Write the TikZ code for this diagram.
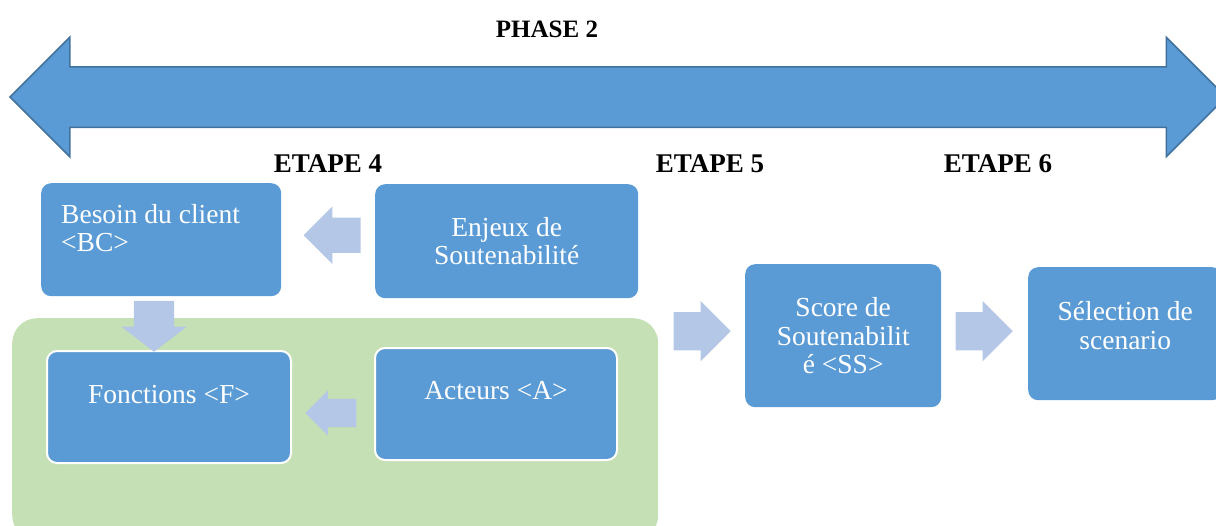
\documentclass[tikz,border=0pt]{standalone}
\usepackage{fontspec}
\setmainfont{Liberation Serif}
\usetikzlibrary{shapes.arrows,calc}
\definecolor{boxblue}{HTML}{5B9BD5}
\definecolor{edgeblue}{HTML}{41719C}
\definecolor{paleblue}{HTML}{B4C7E7}
\definecolor{palegreen}{HTML}{C5E0B4}
\begin{document}
\begin{tikzpicture}[x=1pt, y=-1pt,
    bluebox/.style = {fill=boxblue, rounded corners=10pt, inner sep=0pt, text=white, align=center, font=\fontsize{27.5}{28.5}\selectfont},
    boxtext/.style = {text=white, inner sep=0pt, font=\fontsize{27.5}{28.5}\selectfont},
    etape/.style = {font=\bfseries\fontsize{27}{30}\selectfont, inner sep=0pt},
    lightarrow/.style = {single arrow, fill=paleblue, anchor=tip, inner xsep=0pt, inner ysep=19pt, minimum height=57pt, single arrow head extend=11pt}]
    \useasboundingbox (0,0) rectangle (1216,525);
    % big phase arrow
    \node[double arrow, draw=edgeblue, line width=1.5pt, fill=boxblue, inner xsep=0pt, inner ysep=29.5pt, minimum height=1216pt, double arrow head extend=29.5pt] (fleche) at (618,97) {};
    \node[etape, font=\bfseries\fontsize{25}{28}\selectfont] (phase) at (547,29) {PHASE 2};
    \node[etape] (e4) at (328,164) {ETAPE 4};
    \node[etape] (e5) at (710,164) {ETAPE 5};
    \node[etape] (e6) at (998,164) {ETAPE 6};
    % green group
    \node[fill=palegreen, rounded corners=25pt, minimum width=646pt, minimum height=222pt, anchor=north west] (groupe) at (12,318) {};
    % boxes
    \node[bluebox, minimum width=240pt, minimum height=113pt, anchor=north west,
        label={[boxtext, align=left, anchor=north west, xshift=20pt, yshift=-21pt]north west:{Besoin du client\\<BC>}}] (besoin) at (41,183) {};
    \node[bluebox, minimum width=263pt, minimum height=114pt, anchor=north west] (enjeux) at (375,184) {Enjeux de\\Soutenabilité};
    \node[bluebox, draw=white, line width=2pt, minimum width=244pt, minimum height=112pt, anchor=north west,
        label={[boxtext, yshift=12pt]center:{Fonctions <F>}}] (fonctions) at (46,350) {};
    \node[bluebox, draw=white, line width=2pt, minimum width=242pt, minimum height=112pt, anchor=north west,
        label={[boxtext, yshift=13pt]center:{Acteurs <A>}}] (acteurs) at (374,347) {};
    \node[bluebox, minimum width=196pt, minimum height=143pt, anchor=north west] (score) at (745,264) {Score de\\Soutenabilit\\é <SS>};
    \node[bluebox, minimum width=194pt, minimum height=133pt, anchor=north west,
        label={[boxtext, align=center, yshift=8pt]center:{Sélection de\\scenario}}] (selection) at (1028,267) {};
    % block arrows
    \node[lightarrow, shape border rotate=180, inner ysep=17.5pt] (a1) at ($(besoin.east)+(22,-4.5)$) {};
    \node[lightarrow, rotate=-90, inner ysep=20pt, minimum height=51pt, single arrow head extend=12.5pt, single arrow tip angle=105] (a2) at ($(fonctions.north)+(-15,2)$) {};
    \node[lightarrow, shape border rotate=180, inner ysep=14pt, minimum height=51pt, single arrow head extend=8.5pt] (a3) at ($(fonctions.east)+(13,6)$) {};
    \node[lightarrow] (a4) at ($(score.west)+(-14,-4.5)$) {};
    \node[lightarrow] (a5) at ($(selection.west)+(-15,-2.5)$) {};
\end{tikzpicture}
\end{document}
